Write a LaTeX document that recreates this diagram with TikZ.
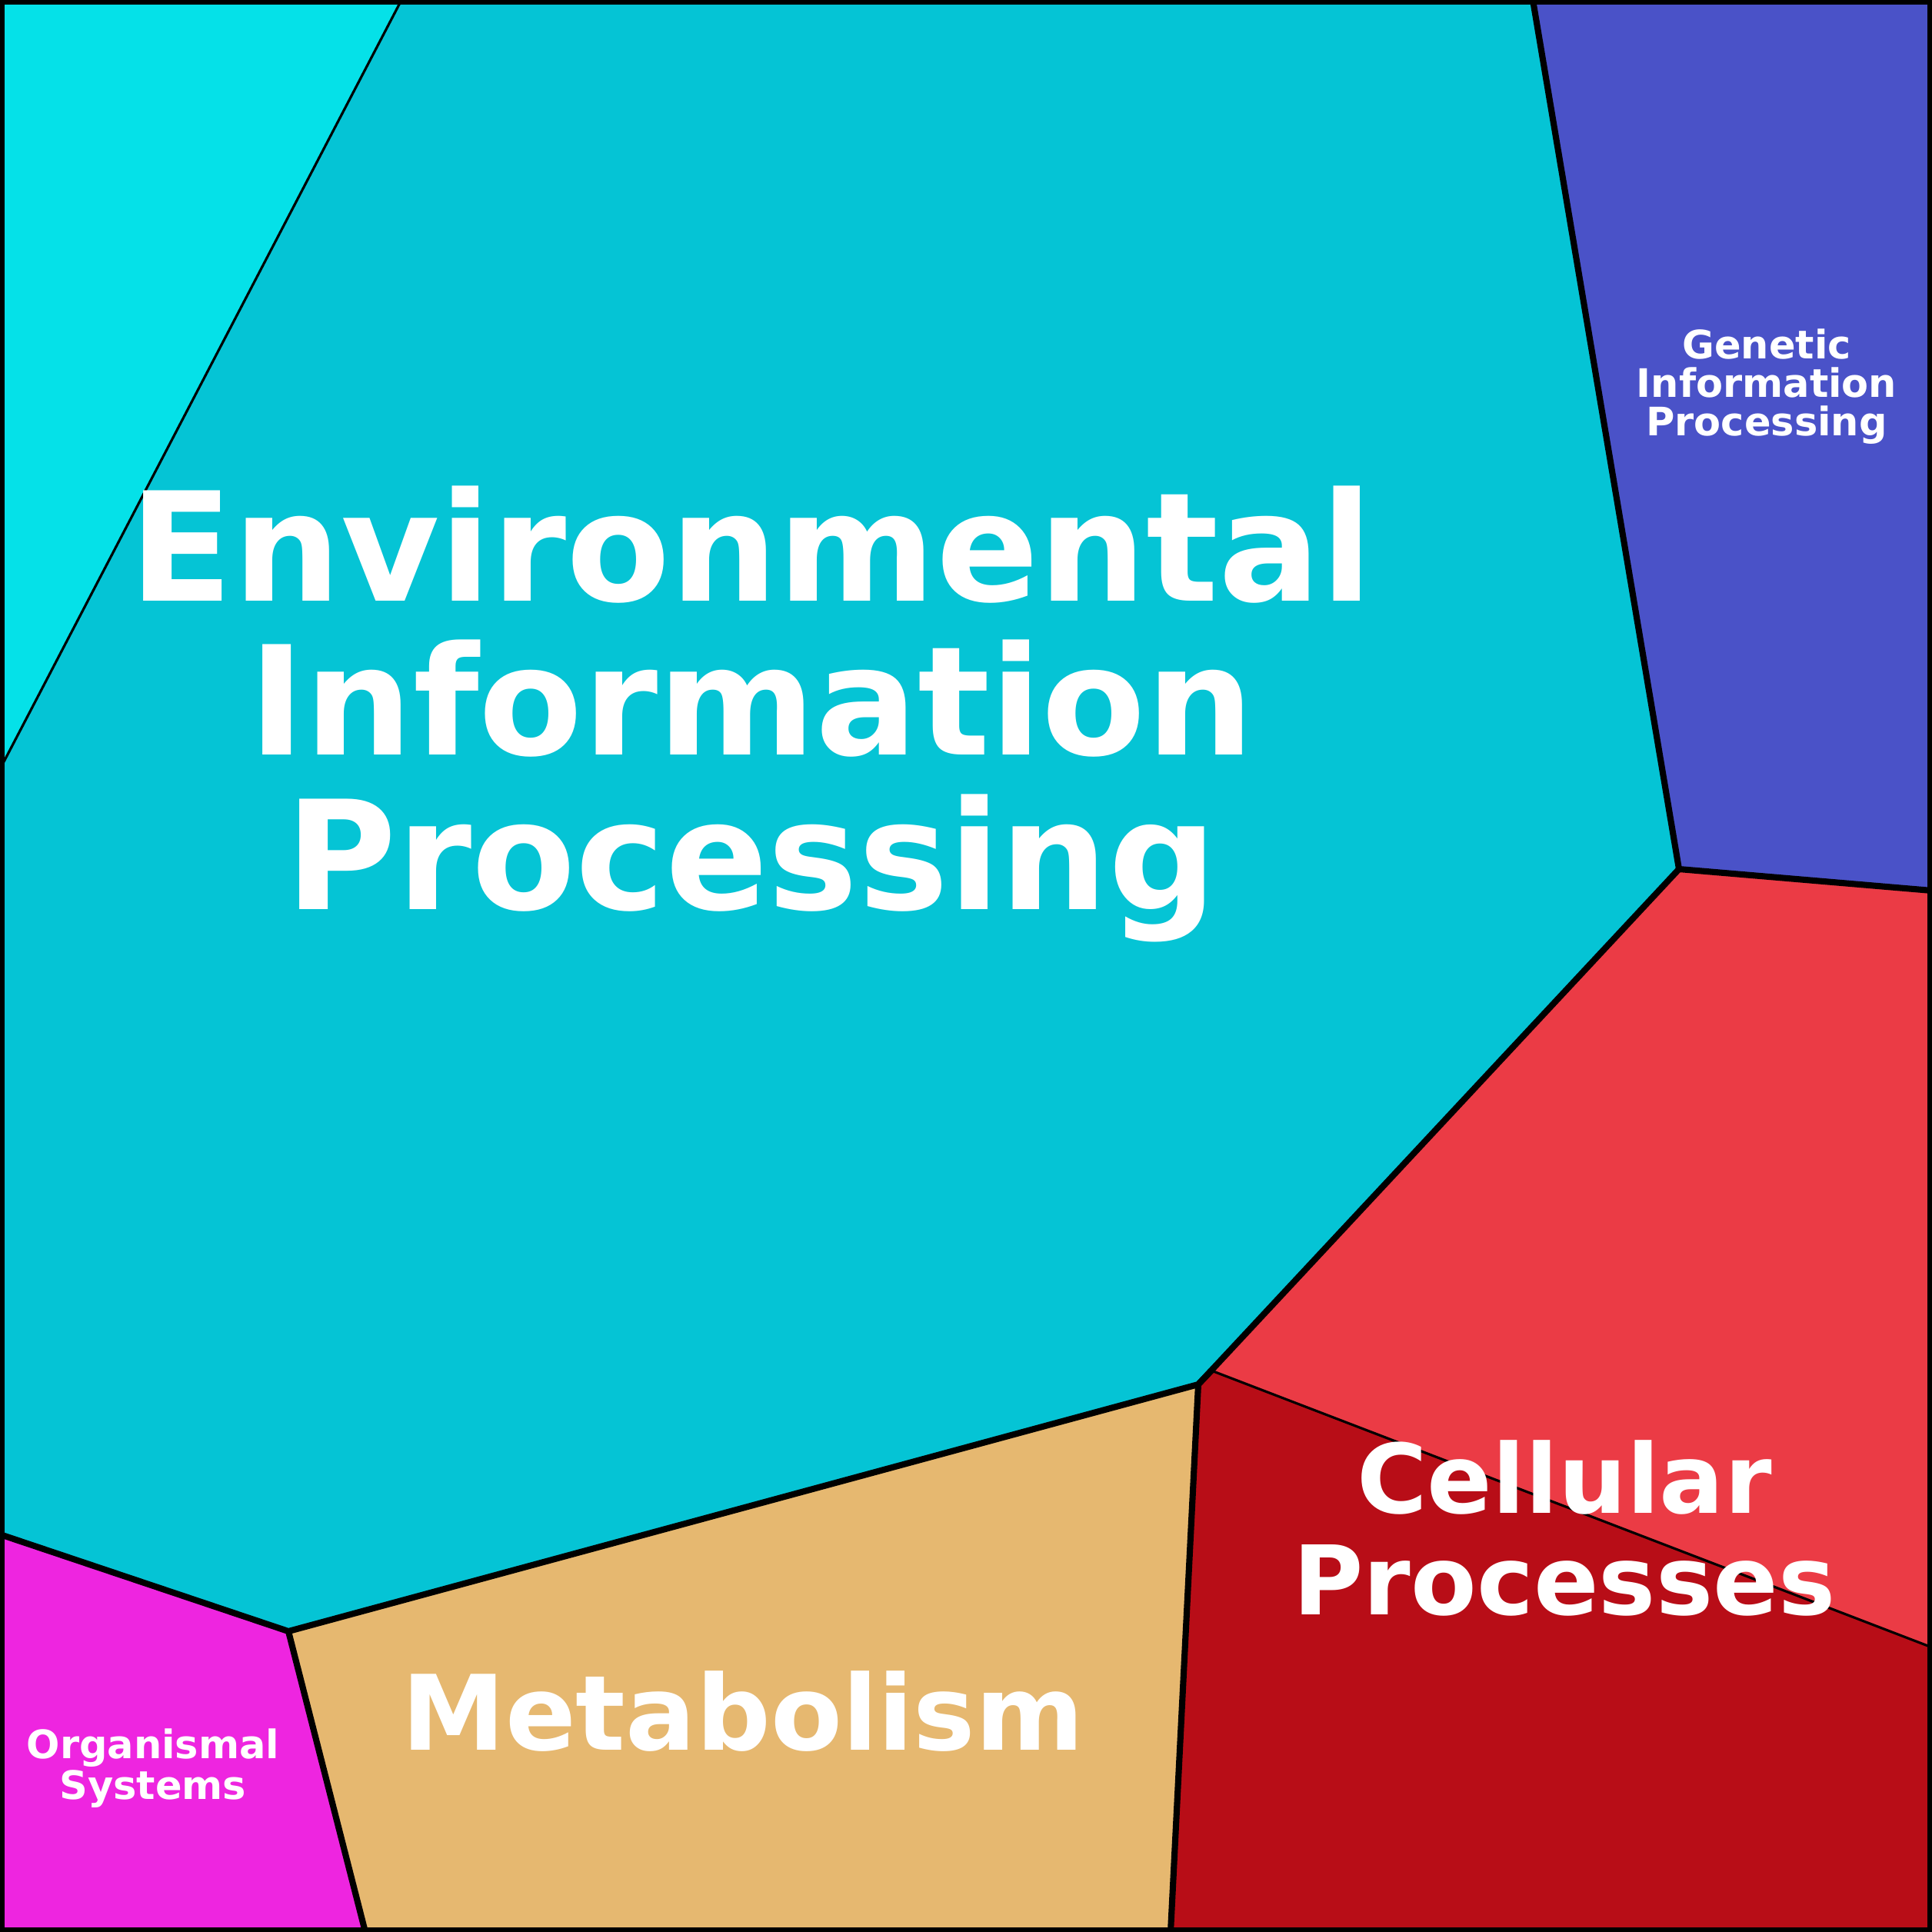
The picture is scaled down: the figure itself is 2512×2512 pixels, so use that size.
\documentclass[tikz,border=0pt]{standalone}
\usepackage{fontspec}
\setmainfont{DejaVu Sans}
\definecolor{cyanA}{HTML}{05E1E8}
\definecolor{cyanB}{HTML}{05C4D5}
\definecolor{blueG}{HTML}{4A52C8}
\definecolor{redL}{HTML}{EB3B45}
\definecolor{redD}{HTML}{B80D17}
\definecolor{tan}{HTML}{E6B870}
\definecolor{mag}{HTML}{EE25E0}
\begin{document}
\begin{tikzpicture}[x=0.01cm,y=-0.01cm,
  cell/.style={draw=black,line width=2.3pt,line join=round},
  thin/.style={draw=black,line width=0.9pt},
  lab/.style={text=white,font=\bfseries,align=center,inner sep=0pt}]
\useasboundingbox (0,0) rectangle (2512,2512);
\fill[cyanA] (0,0)--(522,0)--(0,1000)--cycle;
\fill[cyanB] (522,0)--(1993,0)--(2183,1130)--(1558,1800)--(375,2121)--(0,1995)--(0,1000)--cycle;
\fill[blueG] (1993,0)--(2512,0)--(2512,1158)--(2183,1130)--cycle;
\fill[redL] (2183,1130)--(2512,1158)--(2512,2142)--(1575,1782)--(1558,1800)--cycle;
\fill[redD] (1558,1800)--(1575,1782)--(2512,2142)--(2512,2512)--(1522,2512)--cycle;
\fill[tan] (375,2121)--(1558,1800)--(1522,2512)--(475,2512)--cycle;
\fill[mag] (0,1995)--(375,2121)--(475,2512)--(0,2512)--cycle;
\draw[thin] (522,0)--(0,1000);
\draw[thin] (1575,1782)--(2512,2142);
\draw[cell] (1993,0)--(2183,1130)--(2512,1158);
\draw[cell] (2183,1130)--(1558,1800)--(375,2121)--(0,1995);
\draw[cell] (1558,1800)--(1575,1782);
\draw[cell] (1558,1800)--(1522,2512);
\draw[cell] (375,2121)--(475,2512);
\draw[black,line width=3.4pt] (0,0) rectangle (2512,2512);
\node[lab,font=\bfseries\fontsize{56}{56.9}\selectfont,anchor=base] (env) at (977,1182) {Environmental\\Information\\Processing};
\node[lab,font=\bfseries\fontsize{35.5}{37.4}\selectfont,anchor=base] (cel) at (2034,2099) {Cellular\\Processes};
\node[lab,font=\bfseries\fontsize{38.5}{40}\selectfont,anchor=base] (met) at (966,2275) {Metabolism};
\node[lab,font=\bfseries\fontsize{14.5}{14.1}\selectfont,anchor=base] (gen) at (2297,566) {Genetic\\Information\\Processing};
\node[lab,font=\bfseries\fontsize{14.5}{13.6}\selectfont,anchor=base] (org) at (199,2339) {Organismal\\Systems};
\end{tikzpicture}
\end{document}
